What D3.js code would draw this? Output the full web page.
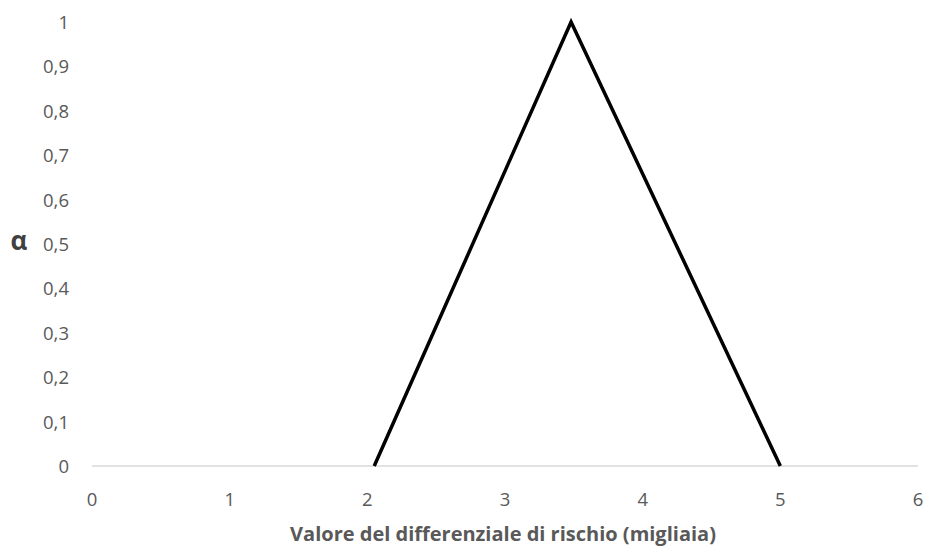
<!DOCTYPE html>
<html>
<head>
<meta charset="utf-8">
<script src="https://cdn.jsdelivr.net/npm/d3@7"></script>
<style>
  html, body { margin: 0; padding: 0; background: #fff; }
  svg { display: block; }
  text { font-family: "Open Sans", Lato, sans-serif; }
</style>
</head>
<body>
<svg id="chart" width="926" height="550"></svg>
<script>
// Triangular membership function of the risk differential
const xValues = [2.05, 3.48, 5.0];
const alphaValues = [0, 1, 0];
const xTicks = [0, 1, 2, 3, 4, 5, 6];
const yTicks = [0, 0.1, 0.2, 0.3, 0.4, 0.5, 0.6, 0.7, 0.8, 0.9, 1];
const xTitle = "Valore del differenziale di rischio (migliaia)";
const yTitle = "\u03b1";

const svg = d3.select("#chart");
const x = d3.scaleLinear().domain([0, 6]).range([92, 918]);
const y = d3.scaleLinear().domain([0, 1]).range([466, 22]);

const fmt = v => String(v).replace(".", ",");

// Horizontal baseline at alpha = 0
svg.append("line")
  .attr("x1", x(0)).attr("x2", x(6))
  .attr("y1", y(0)).attr("y2", y(0))
  .attr("stroke", "#d9d9d9").attr("stroke-width", 1.5);

// Y tick labels
svg.append("g").selectAll("text").data(yTicks).join("text")
  .attr("x", 69).attr("y", d => y(d) + 7)
  .attr("text-anchor", "end")
  .attr("fill", "#595959")
  .attr("font-size", 18.5)
  .text(fmt);

// X tick labels
svg.append("g").selectAll("text").data(xTicks).join("text")
  .attr("x", d => x(d)).attr("y", 506)
  .attr("text-anchor", "middle")
  .attr("fill", "#595959")
  .attr("font-size", 18.5)
  .text(fmt);

// Axis titles
svg.append("text")
  .attr("x", 503).attr("y", 541)
  .attr("text-anchor", "middle")
  .attr("fill", "#595959")
  .attr("font-size", 20)
  .attr("font-weight", "bold")
  .text(xTitle);

svg.append("text")
  .attr("x", 19).attr("y", 250)
  .attr("text-anchor", "middle")
  .attr("fill", "#404040")
  .attr("font-size", 26)
  .attr("font-weight", "bold")
  .attr("font-family", "'Liberation Serif', serif")
  .text(yTitle);

// Membership curve
const line = d3.line().x((d, i) => x(xValues[i])).y(d => y(d));
svg.append("path")
  .datum(alphaValues)
  .attr("d", line)
  .attr("fill", "none")
  .attr("stroke", "#000")
  .attr("stroke-width", 3.5)
  .attr("stroke-linejoin", "miter");
</script>
</body>
</html>
